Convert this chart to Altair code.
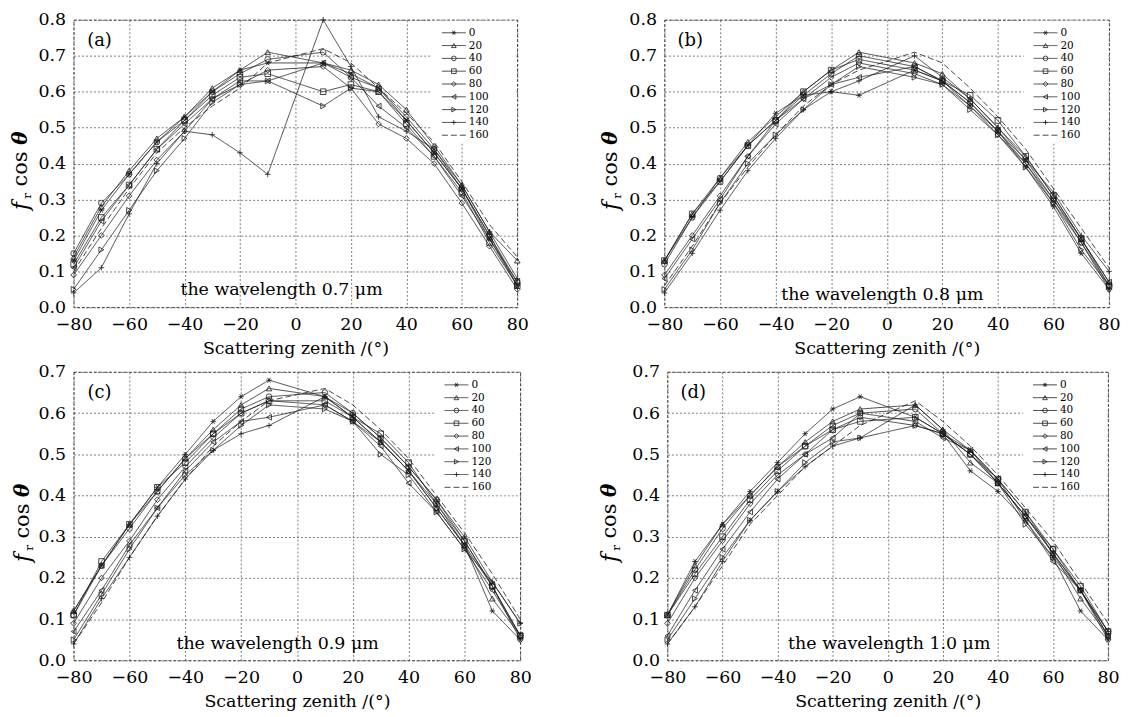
import altair as alt
import pandas as pd

SERIF = "DejaVu Serif"

ZENITH = [-80, -70, -60, -50, -40, -30, -20, -10, 10, 20, 30, 40, 50, 60, 70, 80]
SERIES = ["0", "20", "40", "60", "80", "100", "120", "140", "160"]
X_TICKS = [-80, -60, -40, -20, 0, 20, 40, 60, 80]
Y_TICKS_TOP = [0.0, 0.1, 0.2, 0.3, 0.4, 0.5, 0.6, 0.7, 0.8]
Y_TICKS_BOTTOM = [0.0, 0.1, 0.2, 0.3, 0.4, 0.5, 0.6, 0.7]

# wavelength 0.7 um
A_VALUES = [
    [0.13, 0.27, 0.37, 0.46, 0.53, 0.60, 0.66, 0.68, 0.68, 0.65, 0.61, 0.52, 0.43, 0.33, 0.19, 0.06],
    [0.14, 0.28, 0.38, 0.47, 0.53, 0.61, 0.66, 0.71, 0.68, 0.66, 0.62, 0.55, 0.45, 0.34, 0.21, 0.13],
    [0.15, 0.29, 0.37, 0.46, 0.52, 0.60, 0.65, 0.69, 0.71, 0.64, 0.61, 0.53, 0.44, 0.33, 0.20, 0.07],
    [0.12, 0.25, 0.34, 0.44, 0.52, 0.59, 0.64, 0.65, 0.60, 0.62, 0.60, 0.51, 0.42, 0.32, 0.18, 0.06],
    [0.09, 0.20, 0.31, 0.41, 0.49, 0.58, 0.62, 0.66, 0.67, 0.61, 0.51, 0.47, 0.40, 0.29, 0.17, 0.05],
    [0.11, 0.24, 0.34, 0.44, 0.51, 0.58, 0.63, 0.63, 0.68, 0.64, 0.56, 0.50, 0.42, 0.31, 0.19, 0.07],
    [0.05, 0.16, 0.27, 0.38, 0.47, 0.57, 0.62, 0.63, 0.56, 0.61, 0.60, 0.52, 0.43, 0.33, 0.20, 0.06],
    [0.04, 0.11, 0.26, 0.40, 0.49, 0.48, 0.43, 0.37, 0.80, 0.67, 0.53, 0.49, 0.44, 0.34, 0.21, 0.08],
    [0.10, 0.22, 0.33, 0.43, 0.50, 0.56, 0.61, 0.68, 0.72, 0.68, 0.61, 0.54, 0.46, 0.35, 0.23, 0.14],
]
# wavelength 0.8 um
B_VALUES = [
    [0.13, 0.25, 0.35, 0.45, 0.54, 0.59, 0.60, 0.59, 0.66, 0.63, 0.56, 0.49, 0.39, 0.28, 0.15, 0.05],
    [0.13, 0.26, 0.36, 0.46, 0.53, 0.60, 0.66, 0.71, 0.68, 0.65, 0.58, 0.50, 0.42, 0.31, 0.19, 0.07],
    [0.12, 0.25, 0.36, 0.45, 0.52, 0.59, 0.65, 0.70, 0.67, 0.63, 0.57, 0.49, 0.40, 0.30, 0.18, 0.06],
    [0.13, 0.26, 0.35, 0.45, 0.52, 0.60, 0.66, 0.69, 0.66, 0.63, 0.59, 0.52, 0.42, 0.31, 0.19, 0.06],
    [0.09, 0.20, 0.31, 0.42, 0.52, 0.58, 0.64, 0.68, 0.65, 0.62, 0.56, 0.48, 0.40, 0.29, 0.18, 0.05],
    [0.08, 0.19, 0.30, 0.42, 0.51, 0.58, 0.62, 0.64, 0.67, 0.63, 0.57, 0.49, 0.41, 0.30, 0.19, 0.07],
    [0.05, 0.16, 0.29, 0.40, 0.48, 0.55, 0.62, 0.67, 0.64, 0.62, 0.55, 0.48, 0.39, 0.29, 0.16, 0.06],
    [0.04, 0.15, 0.27, 0.38, 0.47, 0.55, 0.60, 0.63, 0.70, 0.64, 0.58, 0.50, 0.41, 0.32, 0.20, 0.10],
    [0.06, 0.17, 0.29, 0.39, 0.48, 0.56, 0.62, 0.66, 0.71, 0.68, 0.61, 0.53, 0.44, 0.33, 0.22, 0.11],
]
# wavelength 0.9 um
C_VALUES = [
    [0.12, 0.23, 0.33, 0.42, 0.50, 0.58, 0.64, 0.68, 0.64, 0.59, 0.53, 0.46, 0.38, 0.28, 0.12, 0.05],
    [0.12, 0.23, 0.33, 0.41, 0.49, 0.56, 0.62, 0.66, 0.64, 0.59, 0.53, 0.46, 0.37, 0.28, 0.15, 0.06],
    [0.11, 0.23, 0.32, 0.41, 0.49, 0.55, 0.61, 0.64, 0.65, 0.60, 0.54, 0.47, 0.39, 0.29, 0.18, 0.06],
    [0.11, 0.24, 0.33, 0.42, 0.48, 0.55, 0.60, 0.63, 0.63, 0.59, 0.55, 0.48, 0.38, 0.29, 0.18, 0.06],
    [0.09, 0.20, 0.29, 0.39, 0.47, 0.54, 0.60, 0.63, 0.62, 0.58, 0.53, 0.46, 0.37, 0.28, 0.18, 0.05],
    [0.07, 0.17, 0.28, 0.37, 0.46, 0.53, 0.58, 0.59, 0.62, 0.58, 0.52, 0.43, 0.36, 0.27, 0.17, 0.06],
    [0.05, 0.16, 0.27, 0.37, 0.45, 0.51, 0.57, 0.62, 0.61, 0.58, 0.50, 0.45, 0.36, 0.27, 0.19, 0.09],
    [0.04, 0.15, 0.25, 0.35, 0.44, 0.51, 0.55, 0.57, 0.64, 0.60, 0.54, 0.47, 0.39, 0.30, 0.19, 0.09],
    [0.04, 0.14, 0.25, 0.35, 0.44, 0.52, 0.58, 0.63, 0.66, 0.62, 0.56, 0.49, 0.40, 0.31, 0.21, 0.10],
]
# wavelength 1.0 um
D_VALUES = [
    [0.11, 0.24, 0.33, 0.41, 0.48, 0.55, 0.61, 0.64, 0.59, 0.55, 0.46, 0.41, 0.34, 0.25, 0.12, 0.05],
    [0.11, 0.23, 0.33, 0.40, 0.47, 0.53, 0.58, 0.61, 0.62, 0.56, 0.48, 0.43, 0.35, 0.26, 0.15, 0.06],
    [0.11, 0.22, 0.32, 0.40, 0.47, 0.52, 0.57, 0.60, 0.61, 0.55, 0.50, 0.43, 0.35, 0.27, 0.17, 0.07],
    [0.11, 0.21, 0.30, 0.39, 0.46, 0.52, 0.56, 0.58, 0.59, 0.55, 0.50, 0.44, 0.36, 0.27, 0.18, 0.07],
    [0.09, 0.20, 0.29, 0.38, 0.45, 0.50, 0.56, 0.59, 0.57, 0.55, 0.50, 0.43, 0.35, 0.26, 0.17, 0.05],
    [0.06, 0.17, 0.27, 0.36, 0.44, 0.50, 0.54, 0.60, 0.58, 0.54, 0.51, 0.44, 0.34, 0.24, 0.17, 0.06],
    [0.05, 0.15, 0.25, 0.34, 0.41, 0.48, 0.53, 0.54, 0.57, 0.55, 0.51, 0.43, 0.33, 0.25, 0.17, 0.06],
    [0.04, 0.13, 0.24, 0.34, 0.41, 0.47, 0.52, 0.54, 0.62, 0.56, 0.51, 0.44, 0.36, 0.26, 0.17, 0.07],
    [0.04, 0.13, 0.23, 0.33, 0.40, 0.47, 0.52, 0.57, 0.63, 0.58, 0.52, 0.45, 0.37, 0.29, 0.19, 0.09],
]

STAR = "M-1,0L1,0M-0.5,-0.87L0.5,0.87M-0.5,0.87L0.5,-0.87"
PLUS = "M-1,0L1,0M0,-1L0,1"
NONE = "M0,0L0,0"
MARKERS = [STAR, "triangle-up", "circle", "square", "diamond",
           "triangle-left", "triangle-right", PLUS, NONE]
DASHES = [[1, 0]] * 8 + [[6, 3]]

shape_scale = alt.Scale(domain=SERIES, range=MARKERS)
dash_scale = alt.Scale(domain=SERIES, range=DASHES)


def panel(values, ymax, yticks, W, H, tag, wl_text, title_cx, wl_cx, wl_by):
    rows = []
    for s, vals in zip(SERIES, values):
        for z, v in zip(ZENITH, vals):
            rows.append({"series": s, "zenith": z, "value": v})
    df = pd.DataFrame(rows)

    xenc = alt.X("zenith:Q",
                 scale=alt.Scale(domain=[-80, 80], nice=False, zero=False),
                 axis=alt.Axis(values=X_TICKS, title="Scattering zenith /(°)",
                               labelPadding=8, titlePadding=7,
                               labelFlush=False, labelOverlap=False))
    yscale = alt.Scale(domain=[0, ymax], nice=False, zero=True)
    yenc = alt.Y("value:Q", scale=yscale,
                 axis=alt.Axis(values=yticks, format=".1f", title=None,
                               labelPadding=8, labelFlush=False,
                               labelOverlap=False))
    yenc_noaxis = alt.Y("value:Q", scale=yscale, axis=None)

    g = W * 7 / 8  # position of the x=60 gridline
    leg_df = pd.DataFrame({"series": SERIES, "i": list(range(9))})
    leg_scale = alt.Scale(type="point", range=[13, 116], padding=0)
    leg_y = alt.Y("i:O", scale=leg_scale, axis=None)

    one = pd.DataFrame({"a": [0]})

    bg = alt.Chart(one).mark_rect(fill="white").encode(
        x=alt.value(g - 30), x2=alt.value(W - 1),
        y=alt.value(1), y2=alt.value(124))

    lines = alt.Chart(df).mark_line(color="#1a1a1a", strokeWidth=0.8).encode(
        x=xenc, y=yenc, detail="series:N",
        strokeDash=alt.StrokeDash("series:N", scale=dash_scale, legend=None))

    points = alt.Chart(df).mark_point(
        filled=False, color="#1a1a1a", strokeWidth=0.8, size=32, opacity=1).encode(
        x=xenc, y=yenc_noaxis,
        shape=alt.Shape("series:N", scale=shape_scale, legend=None))

    leg_rules = alt.Chart(leg_df).mark_rule(color="#1a1a1a", strokeWidth=0.8).encode(
        x=alt.value(g - 20), x2=alt.value(g + 4), y=leg_y,
        strokeDash=alt.StrokeDash("series:N", scale=dash_scale, legend=None))

    leg_pts = alt.Chart(leg_df).mark_point(
        filled=False, color="#1a1a1a", strokeWidth=0.8, size=22, opacity=1).encode(
        x=alt.value(g - 8), y=leg_y,
        shape=alt.Shape("series:N", scale=shape_scale, legend=None))

    leg_txt = alt.Chart(leg_df).mark_text(
        align="left", baseline="middle", font=SERIF, fontSize=10.5, color="black").encode(
        x=alt.value(g + 7), y=leg_y, text="series:N")

    wl = alt.Chart(one).mark_text(
        align="center", baseline="alphabetic", font=SERIF, fontSize=17.5,
        color="black").encode(x=alt.value(wl_cx), y=alt.value(wl_by),
                              text=alt.value(wl_text))
    lab = alt.Chart(one).mark_text(
        align="center", baseline="middle", font=SERIF, fontSize=18,
        color="black").encode(x=alt.value(26), y=alt.value(21), text=alt.value(tag))

    t_f = alt.Chart(one).mark_text(
        angle=270, align="center", baseline="middle", font=SERIF, fontSize=22,
        fontStyle="italic", color="black").encode(
        x=alt.value(title_cx), y=alt.value(187), text=alt.value("f"))
    t_r = alt.Chart(one).mark_text(
        angle=270, align="center", baseline="middle", font=SERIF, fontSize=12,
        color="black").encode(
        x=alt.value(title_cx + 6), y=alt.value(177), text=alt.value("r"))
    t_cos = alt.Chart(one).mark_text(
        angle=270, align="center", baseline="middle", font=SERIF, fontSize=21,
        color="black").encode(
        x=alt.value(title_cx), y=alt.value(150), text=alt.value("cos"))
    t_th = alt.Chart(one).mark_text(
        angle=270, align="center", baseline="middle", font=SERIF, fontSize=20,
        fontStyle="italic", fontWeight="bold", color="black").encode(
        x=alt.value(title_cx), y=alt.value(119), text=alt.value("θ"))

    return alt.layer(
        lines, points, bg, leg_rules, leg_pts, leg_txt, wl, lab,
        t_f, t_r, t_cos, t_th
    ).resolve_scale(y="independent").properties(width=W, height=H)


pa = panel(A_VALUES, 0.8, Y_TICKS_TOP, 446, 289, "(a)", "the wavelength 0.7 μm", -53, 209, 277)
pb = panel(B_VALUES, 0.8, Y_TICKS_TOP, 447, 289, "(b)", "the wavelength 0.8 μm", -54, 219, 282)
pc = panel(C_VALUES, 0.7, Y_TICKS_BOTTOM, 449, 290, "(c)", "the wavelength 0.9 μm", -50.5, 205, 279)
pd_ = panel(D_VALUES, 0.7, Y_TICKS_BOTTOM, 443, 290, "(d)", "the wavelength 1.0 μm", -57.5, 223, 279)

row1 = alt.hconcat(pa, pb, spacing=70)
row2 = alt.hconcat(pc, pd_, spacing=67)

chart = alt.vconcat(row1, row2, spacing=4).properties(
    padding={"left": 1, "top": 0, "right": 0, "bottom": 0}, background="white"
).configure_view(
    stroke="#222", strokeWidth=0.8, strokeDash=[3, 2]
).configure_axis(
    labelFont=SERIF, labelFontSize=17.5, labelColor="black",
    titleFont=SERIF, titleFontSize=17.5, titleFontWeight="normal", titleColor="black",
    gridColor="#444", gridDash=[2, 2], gridWidth=0.7, gridOpacity=1,
    ticks=False, domain=False
)

chart.save("out.html", embed_options={"renderer": "svg", "actions": False})
